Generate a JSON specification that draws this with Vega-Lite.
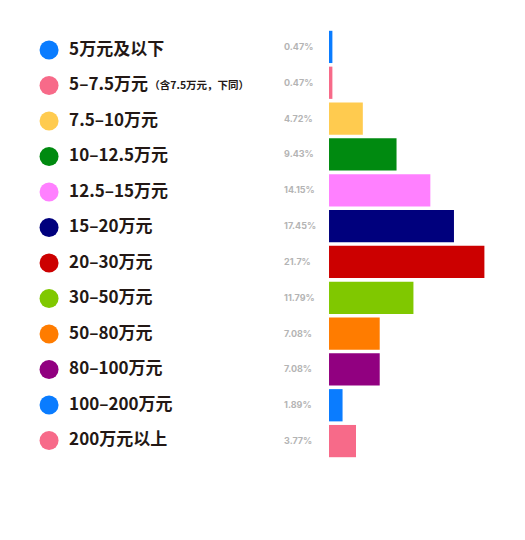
{
  "$schema": "https://vega.github.io/schema/vega-lite/v6.json",
  "autosize": {"type": "none"},
  "width": 525,
  "height": 430,
  "padding": {"left": 0, "top": 29, "right": 0, "bottom": 81},
  "background": "white",
  "config": {"view": {"stroke": null}},
  "data": {
    "values": [
      {"label": "5万元及以下", "note": "", "pct": 0.47, "pctText": "0.47%"},
      {"label": "5–7.5万元", "note": "（含7.5万元，下同）", "pct": 0.47, "pctText": "0.47%"},
      {"label": "7.5–10万元", "note": "", "pct": 4.72, "pctText": "4.72%"},
      {"label": "10–12.5万元", "note": "", "pct": 9.43, "pctText": "9.43%"},
      {"label": "12.5–15万元", "note": "", "pct": 14.15, "pctText": "14.15%"},
      {"label": "15–20万元", "note": "", "pct": 17.45, "pctText": "17.45%"},
      {"label": "20–30万元", "note": "", "pct": 21.7, "pctText": "21.7%"},
      {"label": "30–50万元", "note": "", "pct": 11.79, "pctText": "11.79%"},
      {"label": "50–80万元", "note": "", "pct": 7.08, "pctText": "7.08%"},
      {"label": "80–100万元", "note": "", "pct": 7.08, "pctText": "7.08%"},
      {"label": "100–200万元", "note": "", "pct": 1.89, "pctText": "1.89%"},
      {"label": "200万元以上", "note": "", "pct": 3.77, "pctText": "3.77%"}
    ]
  },
  "resolve": {"scale": {"y": "independent"}},
  "layer": [
    {
      "encoding": {
        "y": {
          "field": "label",
          "type": "nominal",
          "sort": null,
          "axis": null,
          "scale": {"paddingInner": 0.1, "paddingOuter": 0.05}
        }
      },
      "layer": [
        {
          "mark": {"type": "bar"},
          "encoding": {
            "x": {
              "field": "pct",
              "type": "quantitative",
              "axis": null,
              "scale": {"domain": [-45.95, 27.37], "nice": false, "zero": false}
            },
            "x2": {"datum": 0},
            "color": {
              "field": "label",
              "type": "nominal",
              "legend": null,
              "sort": null,
              "scale": {
                "domain": ["5万元及以下", "5–7.5万元", "7.5–10万元", "10–12.5万元", "12.5–15万元", "15–20万元", "20–30万元", "30–50万元", "50–80万元", "80–100万元", "100–200万元", "200万元以上"],
                "range": ["#0a7cff", "#f76a89", "#ffcb4f", "#008a10", "#ff80ff", "#00007d", "#cc0000", "#80c800", "#ff7c00", "#910080", "#0a7cff", "#f76a89"]
              }
            }
          }
        },
        {
          "mark": {"type": "text", "align": "left", "baseline": "middle", "font": "Inter", "fontWeight": "bold", "fontSize": 9, "color": "#b4b4b4"},
          "encoding": {
            "x": {"datum": -6.28},
            "text": {"field": "pctText"}
          }
        }
      ]
    },
    {
      "encoding": {
        "y": {
          "field": "label",
          "type": "nominal",
          "sort": null,
          "axis": null,
          "scale": {"type": "point", "padding": 0.556, "align": 0.53}
        }
      },
      "layer": [
        {
          "mark": {"type": "circle", "size": 361, "opacity": 1},
          "encoding": {
            "x": {"datum": -39.1},
            "color": {"field": "label", "type": "nominal", "legend": null}
          }
        },
        {
          "mark": {"type": "text", "align": "left", "baseline": "middle", "font": "Noto Sans CJK SC", "fontWeight": "bold", "fontSize": 17, "color": "#231815"},
          "encoding": {
            "x": {"datum": -36.3},
            "text": {"field": "label"}
          }
        },
        {
          "mark": {"type": "text", "align": "left", "baseline": "middle", "font": "Noto Sans CJK SC", "fontWeight": "bold", "fontSize": 10.5, "color": "#231815", "dy": 1},
          "encoding": {
            "x": {"datum": -25.1},
            "text": {"field": "note"}
          }
        }
      ]
    }
  ]
}
